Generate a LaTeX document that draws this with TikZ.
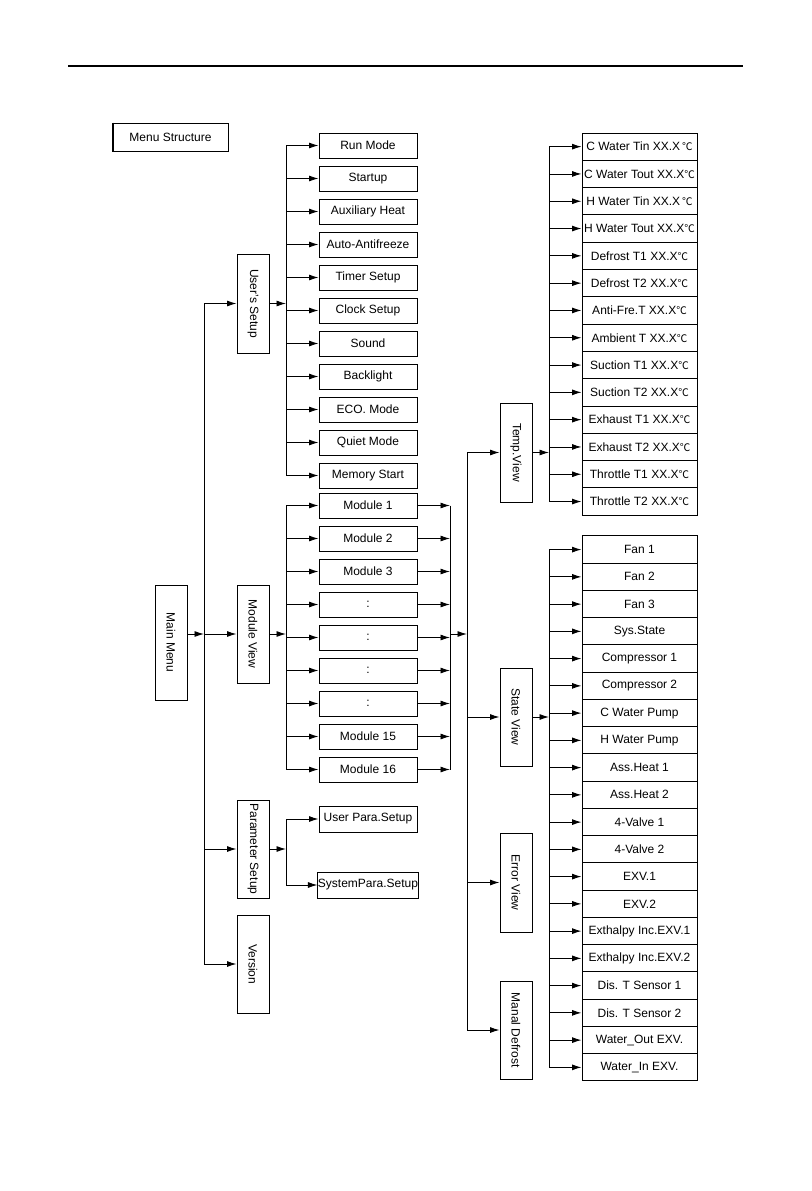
\documentclass[tikz,border=0pt]{standalone}
\usepackage{fontspec}
\usepackage{graphicx}
\setmainfont{Liberation Sans}
\newfontfamily\cjk{Noto Sans CJK SC}
\usetikzlibrary{arrows.meta}
\newcommand{\fs}{\fontsize{12}{14}\selectfont}
\newcommand{\dc}{{\cjk\fontsize{10.5}{10}\selectfont ℃}}
\begin{document}
\begin{tikzpicture}[x=1pt,y=-1pt,
  box/.style={draw, line width=1pt, inner sep=0pt, minimum width=98pt, minimum height=25pt, font=\fs},
  vbox/.style={draw, line width=1pt, inner sep=0pt, minimum width=32pt, minimum height=98pt, font=\fs},
  tbox/.style={draw, line width=1pt, inner sep=0pt, minimum width=115pt, minimum height=27.3pt, font=\fs},
  sbox/.style={draw, line width=1pt, inner sep=0pt, minimum width=115pt, minimum height=27.25pt, font=\fs},
  arr/.style={-{Latex[length=9.5pt,width=6pt]}, line width=0.9pt},
  ln/.style={line width=0.9pt}]
\useasboundingbox (0,0) rectangle (811,1191);
% header rule
\coordinate (hl) at (68,66);
\coordinate (hr) at (743,66);
\draw[line width=1.4pt] (hl) -- (hr);
% title box
\node[draw, line width=1pt, inner sep=0pt, minimum width=115pt, minimum height=28pt, font=\fs] (title) at (170.5,137) {Menu Structure};
\draw[line width=2pt] (title.north west) -- (title.south west);
% main column
\node[vbox, minimum height=115pt] (mm) at (171,642.5) {\rotatebox{-90}{Main Menu}};
\node[vbox, minimum height=99pt] (us) at (253,303.5) {\rotatebox{-90}{User's Setup}};
\node[vbox] (mv) at (253,634) {\rotatebox{-90}{Module View}};
\node[vbox] (ps) at (253,849) {\rotatebox{-90}{Parameter Setup}};
\node[vbox] (ver) at (253,964) {\rotatebox{-90}{Version}};
\coordinate (trunk) at (204,634);
\draw[arr] (mm.east |- mv.west) -- (trunk);
\draw[ln] (trunk |- us.west) -- (trunk |- ver.west);
\draw[arr] (trunk |- us.west) -- (us.west);
\draw[arr] (trunk) -- (mv.west);
\draw[arr] (trunk |- ps.west) -- (ps.west);
\draw[arr] (trunk |- ver.west) -- (ver.west);
% user's setup items
\coordinate (ubus) at (286,303.5);
\foreach \t [count=\i from 0] in {Run Mode,Startup,Auxiliary Heat,Auto-Antifreeze,Timer Setup,Clock Setup,Sound,Backlight,ECO. Mode,Quiet Mode,Memory Start}{
  \node[box] (u\i) at (368,145.5+33*\i) {\t};
  \draw[arr] (ubus |- u\i.west) -- (u\i.west);
}
\draw[ln] (ubus |- u0.west) -- (ubus |- u10.west);
\draw[arr] (us.east) -- (ubus);
% module view items
\coordinate (mbus) at (286,634);
\coordinate (mrbus) at (450,634);
\foreach \t [count=\i from 0] in {Module 1,Module 2,Module 3,:,:,:,:,Module 15,Module 16}{
  \node[box] (m\i) at (368,505.5+33*\i) {\t};
  \draw[arr] (mbus |- m\i.west) -- (m\i.west);
  \draw[arr] (m\i.east) -- (mrbus |- m\i.east);
}
\draw[ln] (mbus |- m0.west) -- (mbus |- m8.west);
\draw[ln] (mrbus |- m0.east) -- (mrbus |- m8.east);
\draw[arr] (mv.east) -- (mbus);
% parameter setup items
\coordinate (pbus) at (286,849);
\node[box, minimum height=26pt] (upa) at (368,819) {User Para.Setup};
\node[box, minimum height=26pt] (spa) at (368,885) {SystemPara.Setup};
\draw[ln] (pbus |- upa.west) -- (pbus |- spa.west);
\draw[arr] (pbus |- upa.west) -- (upa.west);
\draw[arr] (pbus |- spa.west) -- (spa.west);
\draw[arr] (ps.east) -- (pbus);
% right column
\node[vbox, minimum height=99pt] (tv) at (516,452.5) {\rotatebox{-90}{Temp.View}};
\node[vbox] (sv) at (516,717) {\rotatebox{-90}{State View}};
\node[vbox, minimum height=99pt] (ev) at (516,882.5) {\rotatebox{-90}{Error View}};
\node[vbox] (md) at (516,1030) {\rotatebox{-90}{Manal Defrost}};
\coordinate (rtrunk) at (467,634);
\draw[arr] (mrbus) -- (rtrunk);
\draw[ln] (rtrunk |- tv.west) -- (rtrunk |- md.west);
\draw[arr] (rtrunk |- tv.west) -- (tv.west);
\draw[arr] (rtrunk |- sv.west) -- (sv.west);
\draw[arr] (rtrunk |- ev.west) -- (ev.west);
\draw[arr] (rtrunk |- md.west) -- (md.west);
% temperature items
\coordinate (tbus) at (549,452.5);
\foreach \t [count=\i from 0] in {C Water Tin XX.X\,\dc,C Water Tout XX.X\dc,H Water Tin XX.X\,\dc,H Water Tout XX.X\dc,Defrost T1 XX.X\dc,Defrost T2 XX.X\dc,Anti-Fre.T XX.X\dc,Ambient T XX.X\dc,Suction T1 XX.X\dc,Suction T2 XX.X\dc,Exhaust T1 XX.X\dc,Exhaust T2 XX.X\dc,Throttle T1 XX.X\dc,Throttle T2 XX.X\dc}{
  \node[tbox] (t\i) at (639.5,146.65+27.3*\i) {\t};
  \draw[arr] (tbus |- t\i.west) -- (t\i.west);
}
\draw[ln] (tbus |- t0.west) -- (tbus |- t13.west);
\draw[arr] (tv.east) -- (tbus);
% state items
\coordinate (sbus) at (549,717);
\foreach \t [count=\i from 0] in {Fan 1,Fan 2,Fan 3,Sys.State,Compressor 1,Compressor 2,C Water Pump,H Water Pump,Ass.Heat 1,Ass.Heat 2,4-Valve 1,4-Valve 2,EXV.1,EXV.2,Exthalpy Inc.EXV.1,Exthalpy Inc.EXV.2,Dis. T Sensor 1,Dis. T Sensor 2,Water\_Out EXV.,Water\_In EXV.}{
  \node[sbox] (s\i) at (639.5,549.6+27.25*\i) {\t};
  \draw[arr] (sbus |- s\i.west) -- (s\i.west);
}
\draw[ln] (sbus |- s0.west) -- (sbus |- s19.west);
\draw[arr] (sv.east) -- (sbus);
\end{tikzpicture}
\end{document}
